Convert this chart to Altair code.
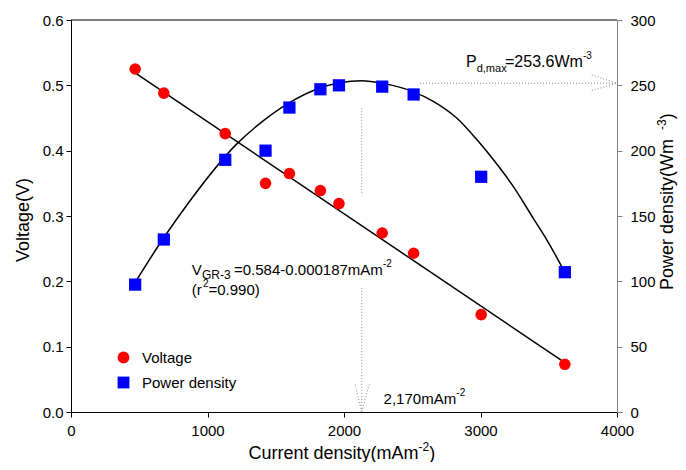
import altair as alt
import pandas as pd

# ---- data ----
current = [470, 680, 1130, 1425, 1600, 1827, 1963, 2280, 2510, 3005, 3618]
voltage = [0.525, 0.488, 0.426, 0.350, 0.365, 0.339, 0.319, 0.274, 0.243, 0.149, 0.073]
power = [97.5, 132, 193, 200, 233, 247, 250, 249, 243, 180, 107]

fit_current = [470, 3615]
fit_voltage = [0.519, 0.076]

curve_current = [467, 677, 860, 1213, 1410, 1604, 1824, 1970, 2130, 2285, 2510,
                 2657, 2826, 2973, 3095, 3241, 3388, 3490, 3622]
curve_power = [98.7, 133, 160, 205, 223, 237, 248, 252, 253.5, 251.5, 245,
               237.6, 225, 208.5, 193, 172.5, 148, 131, 106]

x_ticks = [0, 1000, 2000, 3000, 4000]
v_ticks = [0.0, 0.1, 0.2, 0.3, 0.4, 0.5, 0.6]
p_ticks = [0, 50, 100, 150, 200, 250, 300]

series_names = ["Voltage", "Power density"]
series_colors = ["#FF0000", "#0000FF"]
series_shapes = ["circle", "square"]

# annotation guide values (data units)
peak_current = 2130
vguide_v = [[0.465, 0.333], [0.19, 0.0]]
varrow_x = [2081, 2185]
varrow_v = 0.042
hguide_start = 2557
hguide_p = 251.6
harrow_x = 3815
harrow_p = [258, 246]

FONT = "Liberation Sans"
W, H = 546, 392

xs = alt.Scale(domain=[0, 4000], nice=False, zero=False)
vs = alt.Scale(domain=[0, 0.6], nice=False)
ps = alt.Scale(domain=[0, 300], nice=False)

x_axis = alt.Axis(values=x_ticks, format="d", title=None, grid=False, tickSize=5,
                  labelFontSize=15, labelFont=FONT, labelColor="black", labelPadding=6,
                  domainColor="black", tickColor="black", labelFlush=False, labelOverlap=False)
v_axis = alt.Axis(values=v_ticks, format=".1f", title=None, grid=False, tickSize=5, orient="left",
                  labelFontSize=15, labelFont=FONT, labelColor="black", labelPadding=3,
                  domainColor="black", tickColor="black", labelOverlap=False)
p_axis = alt.Axis(values=p_ticks, format="d", title=None, grid=False, tickSize=5, orient="right",
                  labelFontSize=15, labelFont=FONT, labelColor="black", labelPadding=8,
                  domainColor="#808080", tickColor="#808080", labelOverlap=False)

legend = alt.Legend(title=None, orient="none", legendX=45, legendY=330, padding=0,
                    labelFontSize=15, labelFont=FONT, labelColor="black", symbolSize=140,
                    labelOffset=11, rowPadding=9, symbolStrokeWidth=0)
color = alt.Color("series:N", scale=alt.Scale(domain=series_names, range=series_colors), legend=legend)
shape = alt.Shape("series:N", scale=alt.Scale(domain=series_names, range=series_shapes), legend=legend)

v_df = pd.DataFrame({"current": current, "voltage": voltage, "series": "Voltage"})
p_df = pd.DataFrame({"current": current, "power": power, "series": "Power density"})

one = pd.DataFrame({"a": [0]})

X = lambda f: alt.X(f, scale=xs, axis=x_axis)
YV = lambda f: alt.Y(f, scale=vs, axis=v_axis)
YP = lambda f: alt.Y(f, scale=ps, axis=p_axis)


def txt(s, x, y, size, angle=0, align="left"):
    return alt.Chart(one).mark_text(text=s, font=FONT, fontSize=size, align=align,
                                    baseline="alphabetic", angle=angle, color="black").encode(
        x=alt.value(x), y=alt.value(y))


# ---- left (voltage) layer ----
v_line = alt.Chart(pd.DataFrame({"current": fit_current, "voltage": fit_voltage})).mark_line(
    color="black", strokeWidth=1.5).encode(x=X("current:Q"), y=YV("voltage:Q"))

v_points = alt.Chart(v_df).mark_point(filled=True, opacity=1, size=135, strokeWidth=0).encode(
    x=X("current:Q"), y=YV("voltage:Q"), color=color, shape=shape)

top_rule = alt.Chart(pd.DataFrame({"x": [0], "x2": [4000], "y": [0.6]})).mark_rule(
    color="black", strokeWidth=1).encode(x=X("x:Q"), x2="x2:Q", y=YV("y:Q"))

vg_rows = []
for a, b in vguide_v:
    vg_rows.append({"x": peak_current, "x2": peak_current, "y": a, "y2": b})
for xa in varrow_x:
    vg_rows.append({"x": xa, "x2": peak_current, "y": varrow_v, "y2": 0.0})
v_guides = alt.Chart(pd.DataFrame(vg_rows)).mark_rule(
    color="#8a8a8a", strokeWidth=1, strokeDash=[1, 2]).encode(
    x=X("x:Q"), x2="x2:Q", y=YV("y:Q"), y2="y2:Q")

texts = [
    # regression equation
    txt("V", 120.7, 255, 15),
    txt("GR-3", 131, 259, 12),
    txt("=0.584-0.000187mAm", 163, 255, 15),
    txt("-2", 312, 247, 10),
    txt("(r", 120.7, 275, 15),
    txt("2", 132, 267, 10),
    txt("=0.990)", 137.5, 275, 15),
    # maximum power
    txt("P", 395, 47.3, 16),
    txt("d,max", 405.7, 51.5, 11),
    txt("=253.6Wm", 434, 47.3, 16),
    txt("-3", 512, 38.5, 10),
    # current at maximum
    txt("2,170mAm", 312.6, 384, 15),
    txt("-2", 385.3, 375.5, 10),
    # x axis title
    txt("Current density(mAm", 177.5, 439, 18),
    txt("-2", 347.5, 431, 12),
    txt(")", 358.2, 439, 18),
    # left axis title
    txt("Voltage(V)", -42.5, 200, 18, angle=270, align="center"),
    # right axis title
    txt("Power density(Wm", 602, 270, 18, angle=270),
    txt("-3", 595, 110, 12, angle=270),
    txt(")", 602, 99.3, 18, angle=270),
]

left = alt.layer(v_line, v_points, top_rule, v_guides, *texts)

# ---- right (power) layer ----
p_curve = alt.Chart(pd.DataFrame({"current": curve_current, "power": curve_power})).mark_line(
    color="black", strokeWidth=1.5, interpolate="monotone").encode(
    x=X("current:Q"), y=YP("power:Q"))

p_points = alt.Chart(p_df).mark_point(filled=True, opacity=1, size=150, strokeWidth=0).encode(
    x=X("current:Q"), y=YP("power:Q"), color=color, shape=shape)

hg_rows = [{"x": hguide_start, "x2": 4000, "y": hguide_p, "y2": hguide_p}]
for pa in harrow_p:
    hg_rows.append({"x": harrow_x, "x2": 4000, "y": pa, "y2": hguide_p})
p_guides = alt.Chart(pd.DataFrame(hg_rows)).mark_rule(
    color="#8a8a8a", strokeWidth=1, strokeDash=[1, 2]).encode(
    x=X("x:Q"), x2="x2:Q", y=YP("y:Q"), y2="y2:Q")

right = alt.layer(p_curve, p_points, p_guides)

chart = alt.layer(left, right).resolve_scale(y="independent").properties(
    width=W, height=H,
    background="white",
    autosize=alt.AutoSizeParams(type="none"),
    padding={"left": 63, "top": 12, "right": 61, "bottom": 50},
).configure_view(strokeWidth=0)

chart.save("out.html", embed_options={"renderer": "svg", "actions": False})
